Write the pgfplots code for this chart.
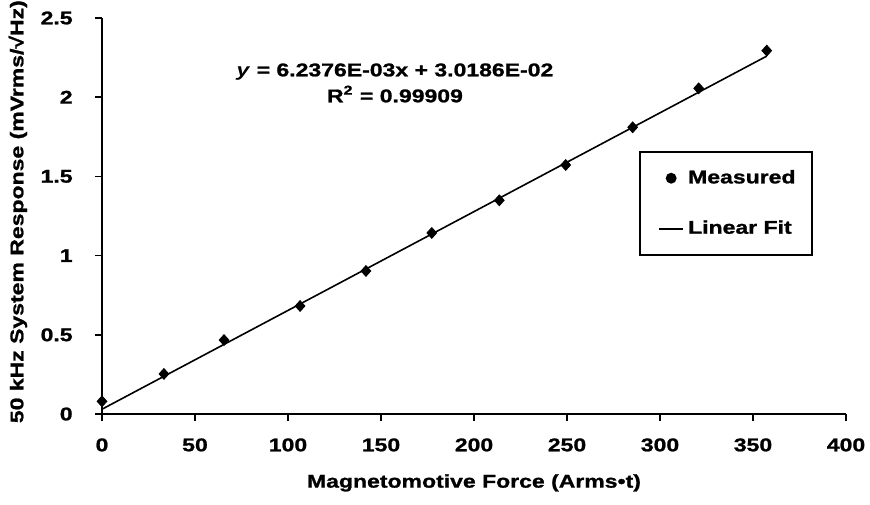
\documentclass[border=0pt]{standalone}
\usepackage{fontspec}
\setmainfont{Liberation Sans}[FakeStretch=1.25, BoldFeatures={FakeBold=1.2}]
\usepackage{pgfplots}
\pgfplotsset{compat=1.18}

\newcommand{\chartfont}{\fontsize{9.2}{11}\selectfont\bfseries}

\begin{document}
\begin{tikzpicture}[font=\chartfont]
\useasboundingbox (-51pt,-45pt) rectangle (384pt,207pt);
\begin{axis}[
  scale only axis,
  width=372pt, height=198pt,
  xmin=0, xmax=400, ymin=0, ymax=2.5,
  axis x line*=bottom, axis y line*=left,
  axis line style={line width=1pt, -},
  tick align=outside,
  major tick length=3.5pt,
  tick style={line width=0.8pt, black},
  xtick={0,50,...,400},
  ytick={0,0.5,1,1.5,2,2.5},
  /pgf/number format/assume math mode=true,
  ticklabel style={font=\chartfont},
  xticklabel style={inner sep=0pt, anchor=north, yshift=-8.5pt},
  yticklabel style={inner sep=0pt, anchor=east, xshift=-11pt},
  xlabel={Magnetomotive Force (Arms•t)},
  ylabel={50 kHz System Response (mVrms/√Hz)},
  x label style={at={(axis description cs:0.5,-0.174)}, anchor=center, font=\chartfont},
  y label style={at={(axis description cs:-0.113,0.511)}, anchor=center, font=\chartfont},
  clip=false,
  legend cell align=left,
  legend style={
    at={(0.722,0.664)}, anchor=north west,
    draw=black, line width=1pt, font=\chartfont,
    inner xsep=6pt, inner ysep=7pt,
    row sep=13pt,
  },
]
% measured response
\addplot[only marks, mark=diamond*, mark size=2.7pt, black,
  mark options={xscale=1.2},
  legend image code/.code={\path (0pt,0pt); \fill[black] (9pt,0pt) circle (2.2pt);}]
  coordinates {
    (0,0.080) (33.3,0.253) (65.6,0.467) (106.5,0.682) (141.9,0.903)
    (177.3,1.143) (213.6,1.349) (249.3,1.572) (285.3,1.810)
    (320.8,2.056) (357.4,2.294)
  };
\addlegendentry{Measured}
% least-squares line y = 6.2376E-03 x + 3.0186E-02
\addplot[black, line width=0.8pt,
  legend image code/.code={\path (0pt,0pt); \draw[black, line width=1pt] (3pt,0pt) -- (15pt,0pt);}]
  coordinates {(0,0.0302) (357.4,2.2595)};
\addlegendentry{Linear Fit}
\node[align=center, font=\fontsize{9.2}{13}\selectfont\bfseries] at (axis cs:157.5,2.09)
  {\textit{y} = 6.2376E-03x + 3.0186E-02\\R\textsuperscript{2} = 0.99909};
\end{axis}
\end{tikzpicture}
\end{document}
